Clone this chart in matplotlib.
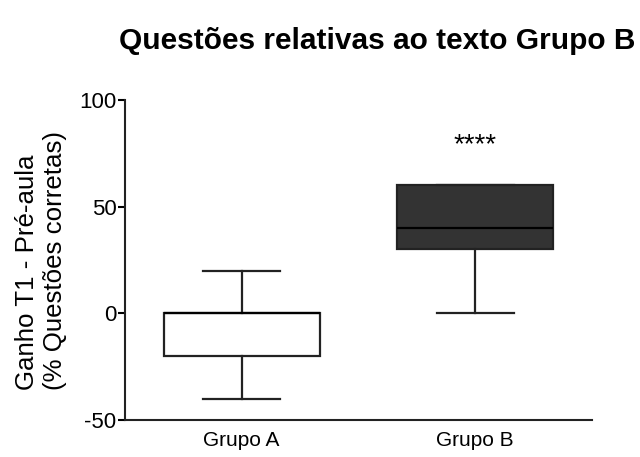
import matplotlib
matplotlib.use("Agg")
import matplotlib.pyplot as plt

plt.rcParams["font.family"] = ["Liberation Sans", "DejaVu Sans"]
plt.rcParams["axes.unicode_minus"] = False

groups = ["Grupo A", "Grupo B"]
whisker_low = [-40, 0]
q1 = [-20, 30]
median = [0, 40]
q3 = [0, 60]
whisker_high = [20, 60]
box_colors = ["white", "#333333"]
significance = ["", "****"]
star_y = 79

stats = []
for i, g in enumerate(groups):
    stats.append({
        "label": g,
        "whislo": whisker_low[i],
        "q1": q1[i],
        "med": median[i],
        "q3": q3[i],
        "whishi": whisker_high[i],
        "fliers": [],
    })

fig = plt.figure(figsize=(6.4, 4.57), dpi=100)
ax = fig.add_axes([0.195, 0.081, 0.73, 0.70])

lw = 1.6
bp = ax.bxp(
    stats,
    positions=[1, 2],
    widths=0.667,
    patch_artist=True,
    showfliers=False,
    boxprops=dict(linewidth=lw, edgecolor="#222222"),
    medianprops=dict(linewidth=lw, color="black"),
    whiskerprops=dict(linewidth=lw, color="#222222"),
    capprops=dict(linewidth=lw, color="#222222"),
    capwidths=0.33,
)
for patch, c in zip(bp["boxes"], box_colors):
    patch.set_facecolor(c)

for i, s in enumerate(significance):
    if s:
        ax.text(i + 1, star_y, s, ha="center", va="center", fontsize=20)

ax.set_xlim(0.5, 2.5)
ax.set_ylim(-50, 100)
ax.set_yticks([-50, 0, 50, 100])
ax.set_xticks([1, 2])
ax.set_xticklabels(groups, fontsize=15)
ax.tick_params(axis="x", length=0, pad=8)
ax.tick_params(axis="y", labelsize=16, length=5, width=1.5, pad=1)
for side in ["top", "right"]:
    ax.spines[side].set_visible(False)
for side in ["left", "bottom"]:
    ax.spines[side].set_linewidth(1.5)
    ax.spines[side].set_color("#222222")

# y label: two lines, bottom-aligned like the original
fig.text(0.064, 0.429, "Ganho T1 - Pré-aula\n(% Questões corretas)", rotation=90,
         ha="center", va="center", multialignment="left", fontsize=18.6, linespacing=1.2)

fig.text(0.59, 0.91, "Questões relativas ao texto Grupo B", ha="center", va="center",
         fontsize=21.5, fontweight="bold")

fig.savefig("out.png", dpi=100)
